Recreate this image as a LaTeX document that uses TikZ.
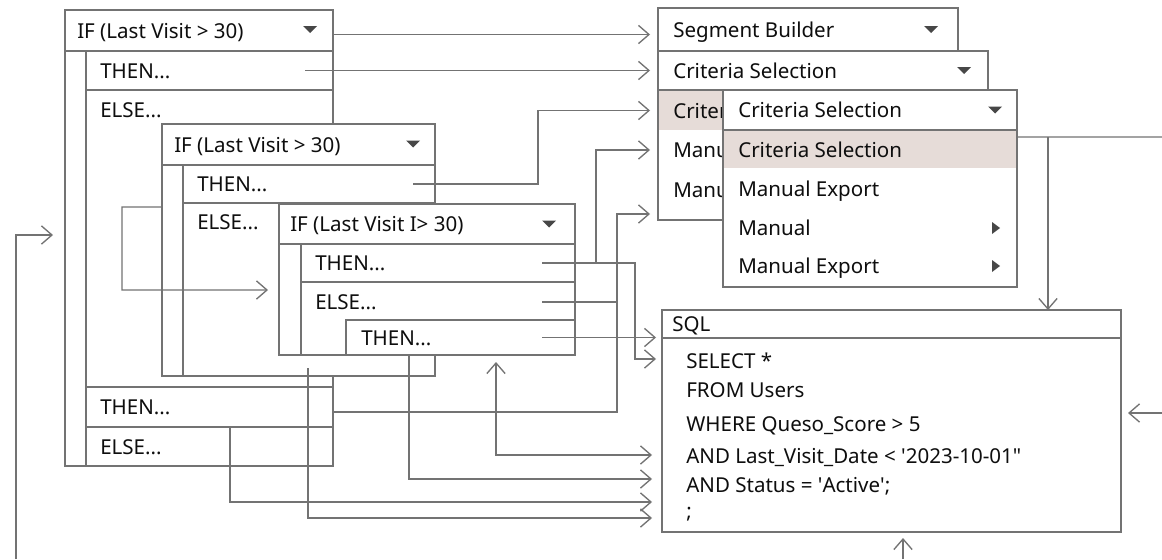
\documentclass[tikz,border=0pt]{standalone}
\usepackage{fontspec}
\setmainfont{Noto Sans}
\usetikzlibrary{arrows.meta,calc,fit}

\definecolor{linegray}{HTML}{737373}
\definecolor{ink}{HTML}{0E0E0E}
\definecolor{tipgray}{HTML}{474747}
\definecolor{pick}{HTML}{E6DCD8}

\tikzset{
  pane/.style={draw=linegray, fill=white, line width=0.95pt, inner sep=0pt, outer sep=0pt},
  pickrow/.style={fill=pick, draw=none, inner sep=0pt, outer sep=0pt},
  txt/.style={anchor=base west, inner sep=0pt, text=ink, font=\fontsize{14.6}{17}\selectfont},
  conn/.style={draw=linegray, line width=0.95pt},
  caret/.pic={\fill[tipgray] (-7,-3.5) -- (7,-3.5) -- (0,3.5) -- cycle;},
  subarr/.pic={\fill[tipgray] (-4,-6) -- (4,0) -- (-4,6) -- cycle;},
}

\begin{document}
\begin{tikzpicture}[x=0.025cm, y=-0.025cm, >={Straight Barb[length=7.5pt,width=13pt]}]
    \fill[white] (0,0) rectangle (1162,559);
    \useasboundingbox (0,0) rectangle (1162,559);

    % outer IF
    \node[pane, fit={(65,10) (333,466)}] (b1) {};
    \node[pane, fit={(65,10) (333,51)}] (b1if) {};
    \node[txt] (b1iftxt) at ($(b1if.west)+(12,7.5)$) {IF (Last Visit > 30)};
    \pic at ($(b1if.east)+(-23,-1)$) {caret};
    \node[pane, fit={(86,51) (333,90)}] (b1then) {};
    \node[txt] (b1thentxt) at ($(b1then.west)+(14,7.5)$) {THEN...};
    \node[pane, fit={(86,90) (333,387)}] (b1else) {};
    \node[txt] (b1elsetxt) at ($(b1else.north west)+(14,27.5)$) {ELSE...};
    \node[pane, fit={(86,387) (333,427)}] (b1then2) {};
    \node[txt] (b1then2txt) at ($(b1then2.west)+(14,7.5)$) {THEN...};
    \node[pane, fit={(86,427) (333,466)}] (b1else2) {};
    \node[txt] (b1else2txt) at ($(b1else2.west)+(14,7.5)$) {ELSE...};

    % second IF
    \node[pane, fit={(162,124) (435,376)}] (b2) {};
    \node[pane, fit={(162,124) (435,165)}] (b2if) {};
    \node[txt] (b2iftxt) at ($(b2if.west)+(12,7.5)$) {IF (Last Visit > 30)};
    \pic at ($(b2if.east)+(-22,-0.5)$) {caret};
    \node[pane, fit={(183,165) (435,203)}] (b2then) {};
    \node[txt] (b2thentxt) at ($(b2then.west)+(14,7.5)$) {THEN...};
    \node[pane, fit={(183,203) (435,376)}] (b2else) {};
    \node[txt] (b2elsetxt) at ($(b2else.north west)+(14,26.5)$) {ELSE...};

    % third IF
    \node[pane, fit={(279,204) (575,355)}] (b3) {};
    \node[pane, fit={(279,204) (575,244)}] (b3if) {};
    \node[txt] (b3iftxt) at ($(b3if.west)+(11,7.5)$) {IF (Last Visit I> 30)};
    \pic at ($(b3if.east)+(-26,0)$) {caret};
    \node[pane, fit={(301,244) (575,282)}] (b3then) {};
    \node[txt] (b3thentxt) at ($(b3then.west)+(14,7.5)$) {THEN...};
    \node[pane, fit={(301,282) (575,355)}] (b3else) {};
    \node[txt] (b3elsetxt) at ($(b3else.north west)+(14,27.5)$) {ELSE...};
    \node[pane, fit={(346,320) (575,355)}] (b3then2) {};
    \node[txt] (b3then2txt) at ($(b3then2.west)+(15,7.5)$) {THEN...};

    % dropdowns
    \node[pane, fit={(658,8) (958,51)}] (seg) {};
    \node[txt] (segtxt) at ($(seg.west)+(15,7.5)$) {Segment Builder};
    \pic at ($(seg.east)+(-27,0)$) {caret};
    \node[pane, fit={(658,51) (988,90)}] (crit) {};
    \node[txt] (crittxt) at ($(crit.west)+(15,7.5)$) {Criteria Selection};
    \pic at ($(crit.east)+(-24,0)$) {caret};
    \node[pane, fit={(658,90) (988,220)}] (back) {};
    \node[pickrow, fit={(659,91) (723,130)}] (backhl) {};
    \node[txt] (backtxt1) at ($(backhl.west)+(14,7.5)$) {Criter};
    \node[txt] (backtxt2) at ($(back.north west)+(15,67.5)$) {Manu};
    \node[txt] (backtxt3) at ($(back.north west)+(15,107.5)$) {Manu};

    \node[pane, fit={(723,90) (1017,287)}] (popup) {};
    \node[pane, fit={(723,90) (1017,130)}] (pophead) {};
    \node[txt] (pophtxt) at ($(pophead.west)+(15,7.5)$) {Criteria Selection};
    \pic at ($(pophead.east)+(-22,0)$) {caret};
    \node[pickrow, fit={(724,131) (1016,168)}] (pophl) {};
    \node[txt] (pophltxt) at ($(pophl.west)+(14,7.5)$) {Criteria Selection};
    \node[txt] (poptxt1) at ($(popup.north west)+(15,106.5)$) {Manual Export};
    \node[txt] (poptxt2) at ($(popup.north west)+(15,145.5)$) {Manual};
    \pic at ($(popup.north east)+(-21,138)$) {subarr};
    \node[txt] (poptxt3) at ($(popup.north west)+(15,183.5)$) {Manual Export};
    \pic at ($(popup.north east)+(-21,176)$) {subarr};

    % SQL box
    \node[pane, fit={(662,310) (1121,532)}] (sql) {};
    \node[pane, fit={(662,310) (1121,338)}] (sqlhead) {};
    \node[txt] (sqlheadtxt) at ($(sqlhead.west)+(10,7.5)$) {SQL};
    \node[txt] (sqlsel) at ($(sql.north west)+(24,58)$) {SELECT *};
    \node[txt] (sqlfrom) at ($(sql.north west)+(24,87)$) {FROM Users};
    \node[txt] (sqlwhere) at ($(sql.north west)+(24,121)$) {WHERE Queso\_Score > 5};
    \node[txt] (sqllast) at ($(sql.north west)+(24,153)$) {AND Last\_Visit\_Date < \textquotesingle 2023-10-01\textquotedbl};
    \node[txt] (sqlstat) at ($(sql.north west)+(24,182)$) {AND Status = \textquotesingle Active\textquotesingle;};
    \node[txt] (sqlend) at ($(sql.north west)+(24,208)$) {;};

    % connectors
    \draw[conn,->] ($(b1if.east)+(0,4)$) -- ($(seg.west)+(-8,5)$);
    \draw[conn,->] ($(b1then.east)+(-28,0)$) -- ($(crit.west)+(-8,0)$);
    \draw[conn,->] ($(b2then.east)+(-22,0)$) -| ($(backhl.west)+(-121,0)$) -- ($(backhl.west)+(-9,0)$);
    \draw[conn,->] ($(b3then.east)+(-33,0)$) -| ($(back.north west)+(-62,60)$) -- ($(back.north west)+(-8,60)$);
    \draw[conn,->] ($(b3then.east)+(-33,0)$) -| ($(sql.north west)+(-27,49)$) -- ($(sql.north west)+(-6,49)$);
    \draw[conn,->] ($(b1then2.east)+(0,5)$) -| ($(back.south west)+(-41,-6)$) -- ($(back.south west)+(-8,-6)$);
    \draw[conn] ($(b3else.north east)+(-33,20)$) -- ($(b3else.north east)+(42,20)$);
    \draw[conn,->] ($(b3then2.east)+(-33,0)$) -- ($(b3then2.east -| sqlhead.south west)+(-6,0)$);
    \draw[conn,<->] ($(b3.south west)+(217,7)$) |- ($(sql.north west)+(-10,145)$);
    \draw[conn,->] ($(b3.south west)+(130,0)$) |- ($(sql.north west)+(-10,169)$);
    \draw[conn,->] ($(b1else2.north west)+(144,0)$) |- ($(sql.north west)+(-10,192)$);
    \draw[conn,->] ($(b2.south west)+(146,-8)$) |- ($(sql.north west)+(-10,208)$);
    \draw[conn,->] ($(b2.north west)+(0,83)$) -| ($(b2.north west)+(-40,166)$) -- ($(b3.north west)+(-11,86)$);

    \coordinate (leftfoot) at (16,559);
    \draw[conn,->] (leftfoot) |- ($(b1.west)+(-12,-3)$);
    \coordinate (rightend) at (1162,137);
    \draw[conn] ($(popup.north east)+(0,47)$) -- (rightend);
    \draw[conn,->] ($(popup.north east)+(31,47)$) -- ($(sql.north west)+(386,0)$);
    \coordinate (rightin) at (1162,413);
    \draw[conn,->] (rightin) -- ($(sql.east |- rightin)+(7,0)$);
    \coordinate (bottomin) at (903,559);
    \draw[conn,->] (bottomin) -- ($(sql.south -| bottomin)+(0,6)$);
\end{tikzpicture}
\end{document}
